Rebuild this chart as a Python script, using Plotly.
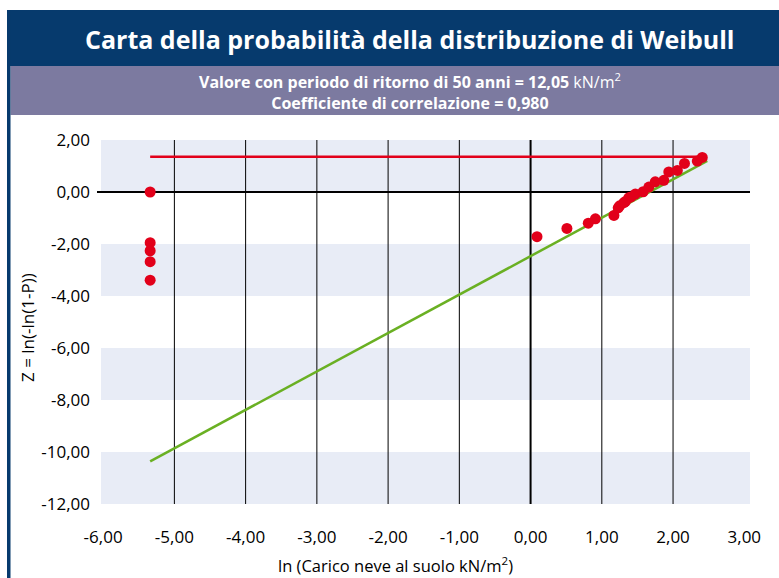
import plotly.graph_objects as go

# --- data -------------------------------------------------------------
ln_load = [-5.34, -5.34, -5.34, -5.34, -5.34,
           0.09, 0.51, 0.81, 0.91, 1.17, 1.23, 1.25, 1.31, 1.33, 1.38,
           1.41, 1.47, 1.58, 1.66, 1.75, 1.87, 1.94, 2.06, 2.16, 2.34, 2.41]
z_vals = [0.00, -1.95, -2.26, -2.68, -3.39,
          -1.72, -1.40, -1.20, -1.03, -0.90, -0.61, -0.53, -0.41, -0.37, -0.22,
          -0.19, -0.08, 0.01, 0.19, 0.39, 0.45, 0.77, 0.83, 1.10, 1.19, 1.33]

fit_x = [-5.34, 2.48]
fit_z = [-10.36, 1.20]

rp_x = [-5.34, 2.41]
rp_z = [1.36, 1.36]

x_ticks = [-6, -5, -4, -3, -2, -1, 0, 1, 2, 3]
x_labels = ["-6,00", "-5,00", "-4,00", "-3,00", "-2,00", "-1,00", "0,00", "1,00", "2,00", "3,00"]
x_grid = [-5, -4, -3, -2, -1, 1, 2]

y_ticks = [2, 0, -2, -4, -6, -8, -10, -12]
y_labels = ["2,00", "0,00", "-2,00", "-4,00", "-6,00", "-8,00", "-10,00", "-12,00"]
y_bands = [(0, 2), (-4, -2), (-8, -6), (-12, -10)]

title = "Carta della probabilità della distribuzione di Weibull"
subtitle = ("<b>Valore con periodo di ritorno di 50 anni = 12,05</b> kN/m<sup>2</sup><br>"
            "<b>Coefficiente di correlazione = 0,980</b>")
x_title = "ln (Carico neve al suolo kN/m<sup>2</sup>)"
y_title = "Z = ln(-ln(1-P))"

# --- layout geometry (pixels) ----------------------------------------
W, H = 779, 578
ML, MR, MT, MB = 101, 29, 140, 74
PW, PH = W - ML - MR, H - MT - MB


def px(x):
    return (x - ML) / PW


def py(y):
    return (H - MB - y) / PH


NAVY = "#063a6d"
LILAC = "#7c7aa0"
RED = "#e2001a"
GREEN = "#6ab023"
BAND = "#e8ecf6"
FONT = "Open Sans"

fig = go.Figure()

fig.add_trace(go.Scatter(x=fit_x, y=fit_z, mode="lines",
                         line=dict(color=GREEN, width=2.5), hoverinfo="skip"))
fig.add_trace(go.Scatter(x=rp_x, y=rp_z, mode="lines",
                         line=dict(color=RED, width=2.5), hoverinfo="skip"))
fig.add_trace(go.Scatter(x=ln_load, y=z_vals, mode="markers",
                         marker=dict(color=RED, size=11, line=dict(width=0))))

shapes = []
# shaded horizontal bands
for lo, hi in y_bands:
    shapes.append(dict(type="rect", xref="paper", yref="y", x0=0, x1=1, y0=lo, y1=hi,
                       fillcolor=BAND, line=dict(width=0), layer="below"))
# vertical grid
for g in x_grid:
    shapes.append(dict(type="line", xref="x", yref="paper", x0=g, x1=g, y0=0, y1=1,
                       line=dict(color="#000000", width=1), layer="below"))
# axes crossing at zero
shapes.append(dict(type="line", xref="x", yref="paper", x0=0, x1=0, y0=0, y1=1,
                   line=dict(color="#000000", width=2), layer="below"))
shapes.append(dict(type="line", xref="paper", yref="y", x0=px(97), x1=1, y0=0, y1=0,
                   line=dict(color="#000000", width=2), layer="below"))
# header bars and left border
shapes.append(dict(type="rect", xref="paper", yref="paper", x0=px(7), x1=px(W), y0=py(66), y1=py(10),
                   fillcolor=NAVY, line=dict(width=0)))
shapes.append(dict(type="rect", xref="paper", yref="paper", x0=px(10.5), x1=px(W), y0=py(115), y1=py(66),
                   fillcolor=LILAC, line=dict(width=0)))
shapes.append(dict(type="rect", xref="paper", yref="paper", x0=px(7), x1=px(10.5), y0=py(H), y1=py(10),
                   fillcolor=NAVY, line=dict(width=0)))

annotations = [
    dict(text="<b>" + title + "</b>", x=px(409), y=py(39), xref="paper", yref="paper",
         showarrow=False, xanchor="center", yanchor="middle",
         font=dict(family=FONT, size=25, color="white")),
    dict(text=subtitle, x=px(410), y=py(91), xref="paper", yref="paper",
         showarrow=False, xanchor="center", yanchor="middle", align="center",
         font=dict(family=FONT, size=16, color="white")),
    dict(text=x_title, x=px(395), y=py(565), xref="paper", yref="paper",
         showarrow=False, xanchor="center", yanchor="middle",
         font=dict(family=FONT, size=16.5, color="black")),
    dict(text=y_title, x=px(27), y=py(328), xref="paper", yref="paper", textangle=-90,
         showarrow=False, xanchor="center", yanchor="middle",
         font=dict(family=FONT, size=17, color="black")),
]

fig.update_layout(
    width=W, height=H,
    margin=dict(l=ML, r=MR, t=MT, b=MB, pad=0),
    paper_bgcolor="white", plot_bgcolor="white",
    showlegend=False,
    shapes=shapes,
    annotations=annotations,
    font=dict(family=FONT, size=17, color="black"),
)
fig.update_xaxes(range=[-6.03, 3.08], tickvals=x_ticks, ticktext=x_labels,
                 showgrid=False, zeroline=False, showline=False, ticks="",
                 ticklabelstandoff=21, tickfont=dict(size=17))
fig.update_yaxes(range=[-12, 2], tickvals=y_ticks, ticktext=y_labels,
                 showgrid=False, zeroline=False, showline=False, ticks="",
                 ticklabelstandoff=10, tickfont=dict(size=17))

fig.write_html("out.html")
